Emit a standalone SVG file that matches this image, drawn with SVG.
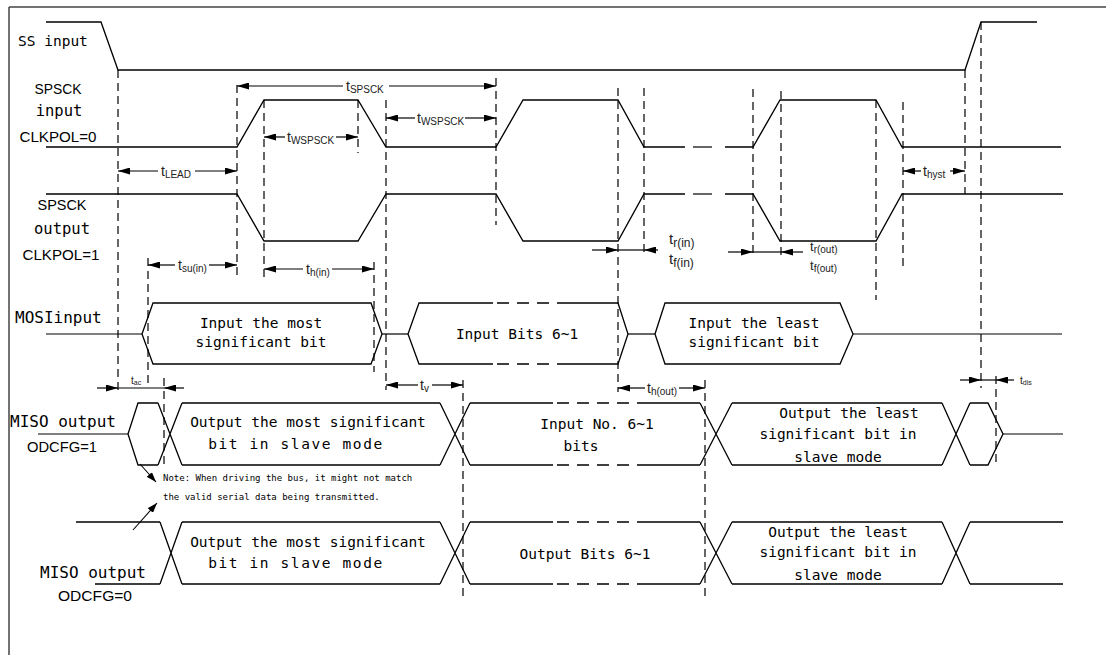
<svg xmlns="http://www.w3.org/2000/svg" width="1106" height="655" viewBox="0 0 1106 655">
<style>
.sig{fill:none;stroke:#000;stroke-width:1.3}
.dsig{fill:none;stroke:#000;stroke-width:1.3;stroke-dasharray:12 8}
.g{stroke:#000;stroke-width:1.2;stroke-dasharray:8 5}
.a{stroke:#000;stroke-width:1.2;marker-end:url(#ah)}
.an{stroke:#000;stroke-width:1.1;marker-end:url(#ahs)}
.l{stroke:#000;stroke-width:1.2}
.mono{font-family:"DejaVu Sans Mono","Liberation Mono",monospace;font-size:14.5px;fill:#000}
.big{font-size:16px}
.sans{font-family:"Liberation Sans",Arial,sans-serif;font-size:15px;fill:#000}
.t{font-family:"Liberation Sans",Arial,sans-serif;font-size:14px;fill:#222}
.s{font-size:10px}
.note{font-family:"DejaVu Sans Mono","Liberation Mono",monospace;font-size:9px;fill:#000}
.c{text-anchor:middle}
</style>
<defs>
<marker id="ah" viewBox="0 0 12 7" refX="12" refY="3.5" markerWidth="12" markerHeight="7" markerUnits="userSpaceOnUse" orient="auto"><path d="M0,0 L12,3.5 L0,7 z" fill="#000"/></marker>
<marker id="ahs" viewBox="0 0 10 7" refX="10" refY="3.5" markerWidth="10" markerHeight="7" markerUnits="userSpaceOnUse" orient="auto"><path d="M0,0 L10,3.5 L0,7 z" fill="#000"/></marker>
</defs>
<rect width="1106" height="655" fill="#fff"/>
<g id="frame" stroke="#444" stroke-width="1.5"><line x1="9" y1="7" x2="1106" y2="7"/><line x1="9" y1="7" x2="9" y2="655"/></g>

<g id="guides">
<line class="g" x1="118" y1="70" x2="118" y2="392"/>
<line class="g" x1="148" y1="258" x2="148" y2="386"/>
<line class="g" x1="164" y1="378" x2="164" y2="466"/>
<line class="g" x1="237" y1="85" x2="237" y2="280"/>
<line class="g" x1="264" y1="100" x2="264" y2="280"/>
<line class="g" x1="358" y1="100" x2="358" y2="153"/>
<line class="g" x1="374" y1="262" x2="374" y2="372"/>
<line class="g" x1="386" y1="100" x2="386" y2="390"/>
<line class="g" x1="463" y1="380" x2="463" y2="596"/>
<line class="g" x1="496" y1="78" x2="496" y2="225"/>
<line class="g" x1="618" y1="88" x2="618" y2="392"/>
<line class="g" x1="644" y1="88" x2="644" y2="257"/>
<line class="g" x1="705" y1="380" x2="705" y2="596"/>
<line class="g" x1="753" y1="89" x2="753" y2="258"/>
<line class="g" x1="781" y1="91" x2="781" y2="258"/>
<line class="g" x1="876" y1="100" x2="876" y2="300"/>
<line class="g" x1="903" y1="102" x2="903" y2="270"/>
<line class="g" x1="965" y1="70" x2="965" y2="194"/>
<line class="g" x1="981" y1="22" x2="981" y2="388"/>
<line class="g" x1="996" y1="376" x2="996" y2="465"/>
</g>

<g id="ss">
<text class="mono" x="18" y="46">SS input</text>
<polyline class="sig" points="46,22 101,22 118,70 965,70 981,22 1037,22"/>
</g>

<g id="spsck-in">
<text class="sans c" x="58" y="94" textLength="47" lengthAdjust="spacingAndGlyphs">SPSCK</text>
<text class="mono c" x="59" y="116" style="font-size:15.5px">input</text>
<text class="sans c" x="58" y="142" textLength="77" lengthAdjust="spacingAndGlyphs">CLKPOL=0</text>
<polyline class="sig" points="46,147 237,147 264,100 358,100 386,147 496,147 523,100 618,100 644,147 685,147"/>
<line class="l" x1="693" y1="147" x2="712" y2="147"/>
<polyline class="sig" points="725,147 753,147 780,100 876,100 902,147 1061,147"/>
</g>

<g id="spsck-out">
<text class="sans c" x="62" y="210" textLength="49" lengthAdjust="spacingAndGlyphs">SPSCK</text>
<text class="mono c" x="62" y="234" style="font-size:15.5px">output</text>
<text class="sans c" x="61" y="260" textLength="77" lengthAdjust="spacingAndGlyphs">CLKPOL=1</text>
<polyline class="sig" points="46,194 237,194 264,241 358,241 386,194 496,194 523,241 618,241 644,194 685,194"/>
<line class="l" x1="693" y1="194" x2="712" y2="194"/>
<polyline class="sig" points="725,194 753,194 780,241 876,241 902,194 1063,194"/>
</g>

<g id="mosi">
<text class="mono big" x="15" y="323">MOSIinput</text>
<line class="l" x1="46" y1="334" x2="142" y2="334"/>
<polygon class="sig" points="142,334 153,303 371,303 382,334 371,364 153,364"/>
<line class="l" x1="382" y1="334" x2="408" y2="334"/>
<polyline class="sig" points="493,303 419,303 408,334 419,364 493,364"/>
<polyline class="sig" points="563,303 618,303 628,334 618,364 563,364"/>
<line class="dsig" x1="497" y1="303" x2="563" y2="303"/>
<line class="dsig" x1="497" y1="364" x2="563" y2="364"/>
<line class="l" x1="628" y1="334" x2="655" y2="334"/>
<polygon class="sig" points="655,334 665,303 840,303 853,334 840,364 665,364"/>
<line class="l" x1="853" y1="334" x2="1062" y2="334"/>
<text class="mono c" x="261" y="328">Input the most</text>
<text class="mono c" x="261" y="347">significant bit</text>
<text class="mono c" x="517" y="339">Input Bits 6~1</text>
<text class="mono c" x="754" y="328">Input the least</text>
<text class="mono c" x="754" y="347">significant bit</text>
</g>

<g id="miso1">
<text class="mono big" x="10" y="427">MISO output</text>
<text class="sans" x="27" y="452" textLength="70" lengthAdjust="spacingAndGlyphs">ODCFG=1</text>
<line class="l" x1="38" y1="434" x2="128" y2="434"/>
<polyline class="sig" points="158,403 138,403 128,434 138,465 158,465"/>
<path class="sig" d="M158,403 L182,465 M158,465 L182,403"/>
<path class="sig" d="M182,403 H440 M182,465 H440"/>
<path class="sig" d="M440,403 L470,465 M440,465 L470,403"/>
<path class="sig" d="M470,403 H553 M637,403 H700 M470,465 H553 M637,465 H700"/>
<path class="dsig" d="M557,403 H637 M557,465 H637"/>
<path class="sig" d="M700,403 L732,465 M700,465 L732,403"/>
<path class="sig" d="M732,403 H942 M732,465 H942"/>
<path class="sig" d="M942,403 L970,465 M942,465 L970,403"/>
<polyline class="sig" points="970,403 988,403 1003,434 988,465 970,465"/>
<line class="l" x1="1003" y1="434" x2="1063" y2="434"/>
<text class="mono c" x="308" y="427">Output the most significant</text>
<text class="mono c" x="296" y="449" letter-spacing="1.6">bit in slave mode</text>
<text class="mono c" x="597" y="429">Input No. 6~1</text>
<text class="mono c" x="581" y="451">bits</text>
<text class="mono c" x="849" y="418">Output the least</text>
<text class="mono c" x="838" y="439">significant bit in</text>
<text class="mono c" x="838" y="462">slave mode</text>
</g>

<g id="note">
<text class="note" x="163" y="481">Note: When driving the bus, it might not match</text>
<text class="note" x="163" y="500">the valid serial data being transmitted.</text>
</g>

<g id="miso0">
<text class="mono big" x="40" y="578">MISO output</text>
<text class="sans" x="58" y="601" textLength="74" lengthAdjust="spacingAndGlyphs">ODCFG=0</text>
<path class="sig" d="M76,522 H160 M95,584 H160"/>
<path class="sig" d="M160,522 L182,584 M160,584 L182,522"/>
<path class="sig" d="M182,522 H440 M182,584 H440"/>
<path class="sig" d="M440,522 L470,584 M440,584 L470,522"/>
<path class="sig" d="M470,522 H553 M637,522 H700 M470,584 H553 M637,584 H700"/>
<path class="dsig" d="M557,522 H637 M557,584 H637"/>
<path class="sig" d="M700,522 L732,584 M700,584 L732,522"/>
<path class="sig" d="M732,522 H942 M732,584 H942"/>
<path class="sig" d="M942,522 L970,584 M942,584 L970,522"/>
<path class="sig" d="M970,522 H1063 M970,584 H1063"/>
<text class="mono c" x="308" y="547">Output the most significant</text>
<text class="mono c" x="296" y="568" letter-spacing="1.6">bit in slave mode</text>
<text class="mono c" x="585" y="559">Output Bits 6~1</text>
<text class="mono c" x="838" y="537">Output the least</text>
<text class="mono c" x="838" y="557">significant bit in</text>
<text class="mono c" x="838" y="580">slave mode</text>
</g>

<g id="connectors">
<line class="a" x1="343" y1="86" x2="237" y2="86"/><line class="a" x1="389" y1="86" x2="496" y2="86"/>
<text class="t" x="346" y="91">t<tspan class="s" dy="2">SPSCK</tspan></text>
<line class="a" x1="158" y1="171" x2="118" y2="171"/><line class="a" x1="195" y1="171" x2="237" y2="171"/>
<text class="t" x="161" y="176">t<tspan class="s" dy="2">LEAD</tspan></text>
<line class="a" x1="285" y1="137" x2="264" y2="137"/><line class="a" x1="336" y1="137" x2="358" y2="137"/>
<text class="t" x="287" y="142">t<tspan class="s" dy="2">WSPSCK</tspan></text>
<line class="a" x1="415" y1="118" x2="386" y2="118"/><line class="a" x1="465" y1="118" x2="496" y2="118"/>
<text class="t" x="417" y="123">t<tspan class="s" dy="2">WSPSCK</tspan></text>
<line class="a" x1="921" y1="171" x2="903" y2="171"/><line class="a" x1="950" y1="171" x2="965" y2="171"/>
<text class="t" x="923" y="176">t<tspan class="s" dy="2">hyst</tspan></text>
<line class="a" x1="175" y1="265" x2="148" y2="265"/><line class="a" x1="209" y1="265" x2="237" y2="265"/>
<text class="t" x="178" y="270">t<tspan class="s" dy="2">su(in)</tspan></text>
<line class="a" x1="303" y1="269" x2="264" y2="269"/><line class="a" x1="332" y1="269" x2="374" y2="269"/>
<text class="t" x="306" y="274">t<tspan class="s" dy="2">h(in)</tspan></text>
<line class="a" x1="418" y1="385" x2="386" y2="385"/><line class="a" x1="432" y1="385" x2="463" y2="385"/>
<text class="t" x="420" y="390">t<tspan class="s" dy="2">v</tspan></text>
<line class="a" x1="645" y1="388" x2="618" y2="388"/><line class="a" x1="679" y1="388" x2="705" y2="388"/>
<text class="t" x="647" y="393">t<tspan class="s" dy="2">h(out)</tspan></text>
<line class="a" x1="97" y1="388" x2="118" y2="388"/><line class="l" x1="118" y1="388" x2="164" y2="388"/><line class="a" x1="184" y1="388" x2="164" y2="388"/>
<text class="t" x="131" y="384" style="font-size:10px">t<tspan style="font-size:7px" dy="1">ac</tspan></text>
<line class="a" x1="960" y1="380" x2="981" y2="380"/><line class="l" x1="981" y1="380" x2="996" y2="380"/><line class="a" x1="1014" y1="380" x2="996" y2="380"/>
<text class="t" x="1020" y="384" style="font-size:10px">t<tspan style="font-size:7px" dy="1">dis</tspan></text>
<line class="a" x1="592" y1="250" x2="618" y2="250"/><line class="l" x1="618" y1="250" x2="644" y2="250"/><line class="a" x1="658" y1="250" x2="644" y2="250"/>
<text class="t" x="669" y="244" style="font-size:15px">t<tspan style="font-size:12px" dy="3">r(in)</tspan></text>
<text class="t" x="669" y="264" style="font-size:15px">t<tspan style="font-size:12px" dy="3">f(in)</tspan></text>
<line class="a" x1="728" y1="252" x2="753" y2="252"/><line class="l" x1="753" y1="252" x2="781" y2="252"/><line class="a" x1="803" y1="252" x2="781" y2="252"/>
<text class="t" x="810" y="251" style="font-size:13px">t<tspan class="s" dy="2">r(out)</tspan></text>
<text class="t" x="810" y="270" style="font-size:13px">t<tspan class="s" dy="2">f(out)</tspan></text>
<line class="an" x1="140" y1="464" x2="156" y2="482"/>
<line class="an" x1="133" y1="530" x2="157" y2="503"/>
</g>
</svg>
